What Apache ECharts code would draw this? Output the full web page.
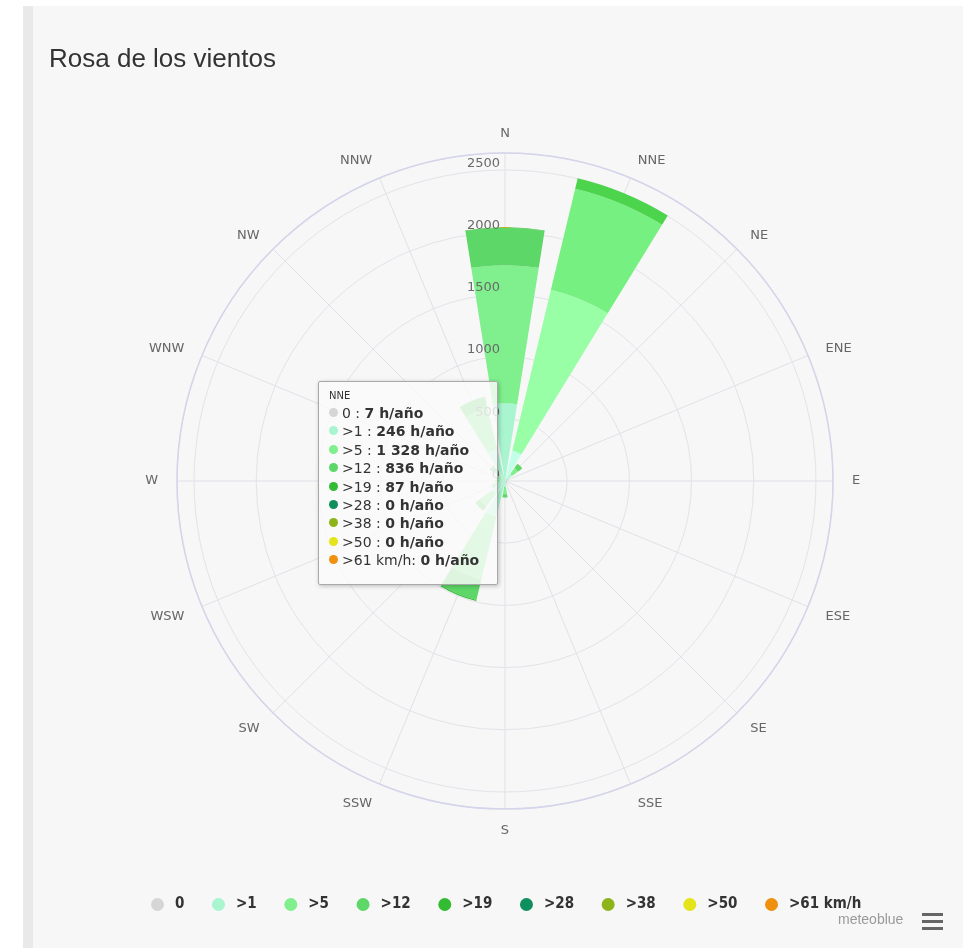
<!DOCTYPE html>
<html>
<head>
<meta charset="utf-8">
<script src="https://cdn.jsdelivr.net/npm/echarts@6/dist/echarts.min.js"></script>
<style>
html,body{margin:0;padding:0;background:#fff;}
#chart{width:970px;height:948px;}
</style>
</head>
<body>
<div id="chart"></div>
<script>
// ---- data ----
const directions = ['N','NNE','NE','ENE','E','ESE','SE','SSE','S','SSW','SW','WSW','W','WNW','NW','NNW'];
const speedClasses = ['0', '>1', '>5', '>12', '>19', '>28', '>38', '>50', '>61 km/h'];
const hours0   = [5, 7, 3, 1, 1, 1, 1, 1, 2, 4, 3, 2, 2, 2, 3, 4];
const hours1   = [620, 246, 70, 15, 10, 8, 8, 12, 45, 290, 120, 60, 45, 40, 70, 260];
const hours5   = [1110, 1328, 55, 6, 4, 3, 3, 6, 60, 520, 130, 40, 25, 25, 60, 340];
const hours12  = [300, 836, 40, 2, 1, 1, 1, 2, 25, 170, 40, 8, 5, 6, 20, 90];
const hours19  = [5, 87, 3, 0, 0, 0, 0, 0, 1, 8, 2, 0, 0, 0, 1, 3];
const hours28  = [0, 0, 0, 0, 0, 0, 0, 0, 0, 0, 0, 0, 0, 0, 0, 0];
const hours38  = [0, 0, 0, 0, 0, 0, 0, 0, 0, 0, 0, 0, 0, 0, 0, 0];
const hours50  = [0, 0, 0, 0, 0, 0, 0, 0, 0, 0, 0, 0, 0, 0, 0, 0];
const hours61  = [0, 0, 0, 0, 0, 0, 0, 0, 0, 0, 0, 0, 0, 0, 0, 0];
const radiusMax = 2637;
const radiusStep = 500;
const hoveredIndex = 1; // NNE
const unit = 'h/año';

// ---- styles ----
const colors = ['#d6d6d6', '#a8f5d0', '#80ef8d', '#5dd767', '#33bb33', '#108f5e', '#8db41a', '#e4e41b', '#f0900f'];
const POLAR_R = 328, LABEL_R = 347, LABEL_H = 13;
function brighten(hex) {
  const n = parseInt(hex.slice(1), 16);
  const r = Math.min(255, ((n >> 16) & 255) + 25);
  const g = Math.min(255, ((n >> 8) & 255) + 25);
  const b = Math.min(255, (n & 255) + 25);
  return 'rgb(' + r + ',' + g + ',' + b + ')';
}
function fmt(v) {
  return String(v).replace(/\B(?=(\d{3})+(?!\d))/g, ' ');
}
const allData = [hours0, hours1, hours5, hours12, hours19, hours28, hours38, hours50, hours61];

// rich styles that push each angle label so its centre sits on a circle of LABEL_R
const step = 360 / directions.length;
const angleRich = {};
directions.forEach(function (_, k) {
  const th = k * step * Math.PI / 180;
  const sx = Math.sin(th), cy = Math.cos(th);
  const d = LABEL_R - POLAR_R;
  let pt = 0, pr = 0, pb = 0, pl = 0;
  if (Math.abs(sx) >= 0.3) { if (sx > 0) pl = d * Math.abs(sx); else pr = d * Math.abs(sx); }
  if (Math.abs(cy) >= 0.3) {
    // vertical token padding is split around the centred text, hence x2
    if (cy > 0) pb = 2 * Math.max(0, d * Math.abs(cy) - LABEL_H / 2);
    else pt = 2 * Math.max(0, d * Math.abs(cy) - LABEL_H / 2 + 2.5);
  }
  angleRich['d' + k] = {padding: [pt, pr, pb, pl], fontSize: 13, color: '#666', fontFamily: '"DejaVu Sans", sans-serif', lineHeight: LABEL_H};
});

const chart = echarts.init(document.getElementById('chart'), null, {renderer: 'canvas'});

const series = allData.map((d, i) => ({
  name: speedClasses[i],
  type: 'bar',
  coordinateSystem: 'polar',
  polarIndex: 0,
  stack: 'wind',
  data: d,
  barCategoryGap: '20%',
  itemStyle: {color: colors[i]},
  emphasis: {itemStyle: {color: brighten(colors[i])}},
  z: 2
}));

const option = {
  animation: false,
  backgroundColor: '#ffffff',
  graphic: [
    {type: 'rect', shape: {x: 23, y: 6, width: 10, height: 942}, style: {fill: '#e9e9e9'}, z: -10, silent: true},
    {type: 'rect', shape: {x: 33, y: 6, width: 930, height: 942}, style: {fill: '#f7f7f7'}, z: -10, silent: true},
    {type: 'text', left: 838, top: 913, style: {text: 'meteoblue', fill: '#9a9a9a', font: '14px "Liberation Sans", Arial, sans-serif'}, z: 5},
    {type: 'rect', shape: {x: 922, y: 913, width: 21, height: 3}, style: {fill: '#666'}, z: 5},
    {type: 'rect', shape: {x: 922, y: 920, width: 21, height: 3}, style: {fill: '#666'}, z: 5},
    {type: 'rect', shape: {x: 922, y: 927, width: 21, height: 3}, style: {fill: '#666'}, z: 5}
  ],
  title: {
    text: 'Rosa de los vientos',
    left: 44, top: 42,
    textStyle: {fontSize: 26, fontWeight: 'normal', color: '#333', fontFamily: '"Liberation Sans", Arial, sans-serif'}
  },
  legend: {
    data: speedClasses,
    left: 146, top: 892,
    icon: 'circle',
    itemWidth: 13, itemHeight: 13, itemGap: 27.6,
    textStyle: {fontSize: 15, fontWeight: 'bold', color: '#333', fontFamily: '"DejaVu Sans Condensed", "DejaVu Sans", sans-serif', padding: [0, 0, 0, 6]}
  },
  polar: [
    {center: [505, 481], radius: POLAR_R},
    {center: [505, 481], radius: POLAR_R}
  ],
  angleAxis: [
    {
      polarIndex: 0, type: 'category', data: directions, startAngle: 90 + step / 2, clockwise: true, boundaryGap: true,
      axisLine: {show: false}, axisTick: {show: false}, axisLabel: {show: false}, splitLine: {show: false}, z: 0
    },
    {
      polarIndex: 1, type: 'value', min: 0, max: 360, interval: step, startAngle: 90, clockwise: true,
      axisLine: {show: true, lineStyle: {color: '#d4d4ea', width: 1.5}},
      axisTick: {show: false},
      splitLine: {show: true, lineStyle: {color: '#e1e1e8', width: 1}},
      axisLabel: {
        margin: 0, color: '#666', fontSize: 13, fontFamily: '"DejaVu Sans", sans-serif',
        rich: angleRich,
        formatter: function (v) { const k = Math.round(v / step); return k < directions.length ? '{d' + k + '|' + directions[k] + '}' : ''; }
      },
      z: 0
    }
  ],
  radiusAxis: [
    {
      polarIndex: 0, type: 'value', min: 0, max: radiusMax, interval: radiusStep,
      axisLine: {show: false}, axisTick: {show: false}, axisLabel: {show: false},
      splitLine: {show: true, lineStyle: {color: '#e3e3ea', width: 1}}, z: 0
    },
    {
      polarIndex: 1, type: 'value', min: 0, max: radiusMax, interval: radiusStep,
      axisLine: {show: false}, axisTick: {show: false}, splitLine: {show: false},
      axisLabel: {
        color: '#6a6a6a', fontSize: 13, fontFamily: '"DejaVu Sans", sans-serif', margin: 5,
        align: 'right', verticalAlign: 'bottom',
        formatter: function (v) { return v % radiusStep === 0 ? String(v) : ''; }
      },
      z: 10
    }
  ],
  tooltip: {
    trigger: 'item',
    triggerOn: 'none',
    alwaysShowContent: true,
    transitionDuration: 0,
    position: [318, 381],
    padding: [6, 10, 14, 10],
    backgroundColor: 'rgba(250,250,250,0.82)',
    borderColor: '#a9a9a9',
    borderWidth: 1,
    extraCssText: 'box-shadow:1px 1px 4px rgba(0,0,0,0.25);border-radius:2px;',
    formatter: function (p) {
      const idx = p.dataIndex;
      let html = '<div style="width:158px;font-family:\'DejaVu Sans\',sans-serif;color:#333;">';
      html += '<div style="font-size:10px;line-height:16px;">' + directions[idx] + '</div>';
      allData.forEach(function (d, i) {
        const sep = i === allData.length - 1 ? ': ' : ' : ';
        html += '<div style="font-size:14px;line-height:18.4px;white-space:nowrap;">' +
          '<span style="display:inline-block;width:9px;height:9px;border-radius:50%;background:' + colors[i] + ';margin-right:4px;vertical-align:1px;"></span>' +
          speedClasses[i] + sep + '<b>' + fmt(d[idx]) + ' ' + unit + '</b></div>';
      });
      html += '</div>';
      return html;
    }
  },
  series: series
};

chart.setOption(option);
function showHover() {
  chart.dispatchAction({type: 'highlight', seriesIndex: allData.map((_, i) => i), dataIndex: hoveredIndex});
  chart.dispatchAction({type: 'showTip', seriesIndex: 0, dataIndex: hoveredIndex});
}
showHover();
setTimeout(showHover, 50);
</script>
</body>
</html>
